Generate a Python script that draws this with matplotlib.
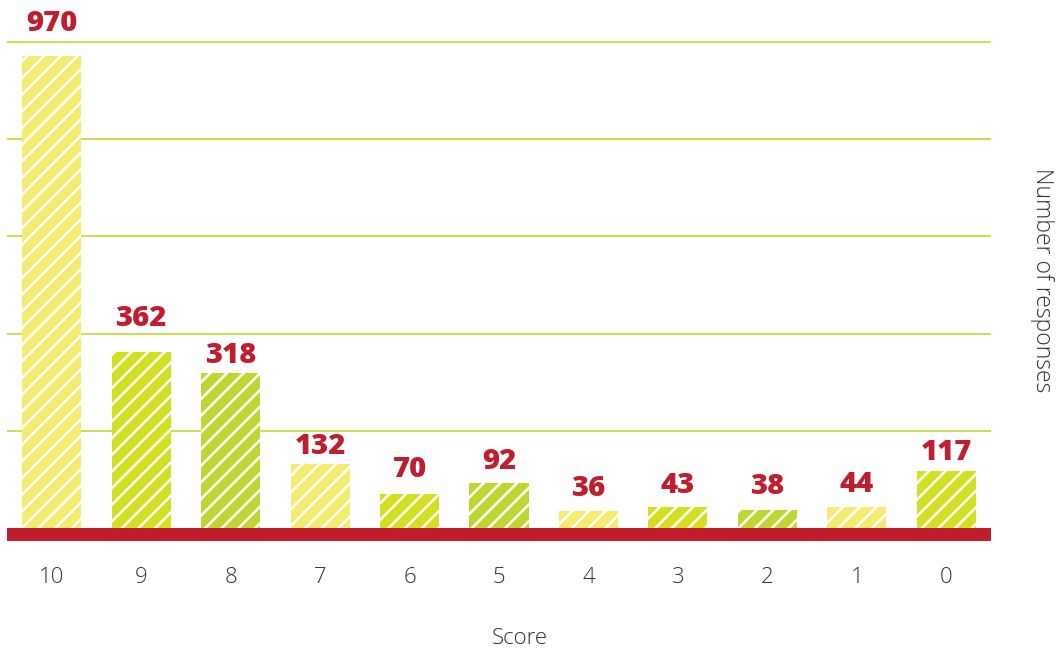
import matplotlib
matplotlib.use("Agg")
import matplotlib.pyplot as plt

categories = ["10", "9", "8", "7", "6", "5", "4", "3", "2", "1", "0"]
responses = [970, 362, 318, 132, 70, 92, 36, 43, 38, 44, 117]
palette = ["#F3EC6E", "#D5DF22", "#BFD632"]
bar_colors = [palette[i % 3] for i in range(len(categories))]
grid_values = [200, 400, 600, 800, 1000]
# vertical distance (px) of each value label's centre above its bar
label_gap_px = [33, 34, 18, 17, 24, 22, 22, 22, 23, 22, 19]

plt.rcParams['font.family'] = ['Open Sans', 'DejaVu Sans']
plt.rcParams['hatch.linewidth'] = 1.8

W, H = 1059, 650
fig = plt.figure(figsize=(W / 100, H / 100), dpi=100)
ax = fig.add_axes([7 / W, (H - 541) / H, 984 / W, 541 / H])

ymin, ymax = -26.7, 1086
ax.set_xlim(-0.5, 10.5)
ax.set_ylim(ymin, ymax)

for g in grid_values:
    ax.axhline(g, color="#C8DC3C", lw=1.3, zorder=1)

x = list(range(len(categories)))
bars = ax.bar(x, responses, width=0.66, color=bar_colors, edgecolor="white",
              linewidth=0, hatch="//", zorder=2)

ax.axhspan(ymin, 0, color="#C01D2E", zorder=3, lw=0)

for xi, v, gap in zip(x, responses, label_gap_px):
    ax.annotate(str(v), (xi, v), xytext=(0, gap * 0.72), textcoords="offset points",
                ha="center", va="center", fontsize=21, fontweight="heavy",
                color="#C01D2E", clip_on=False, zorder=4)

ax.set_xticks(x)
ax.set_xticklabels(categories, fontsize=16, color="#333333", fontweight="light")
ax.tick_params(axis="x", length=0, pad=19)
ax.set_yticks([])
for s in ax.spines.values():
    s.set_visible(False)

fig.text(520 / W, 1 - 638 / H, "Score", ha="center", va="center",
         fontsize=16, color="#333333", fontweight="light")
fig.text(1042 / W, 1 - 280 / H, "Number of responses", ha="center", va="center",
         rotation=270, fontsize=16.5, color="#333333", fontweight="light")

fig.savefig("out.png", dpi=100)
